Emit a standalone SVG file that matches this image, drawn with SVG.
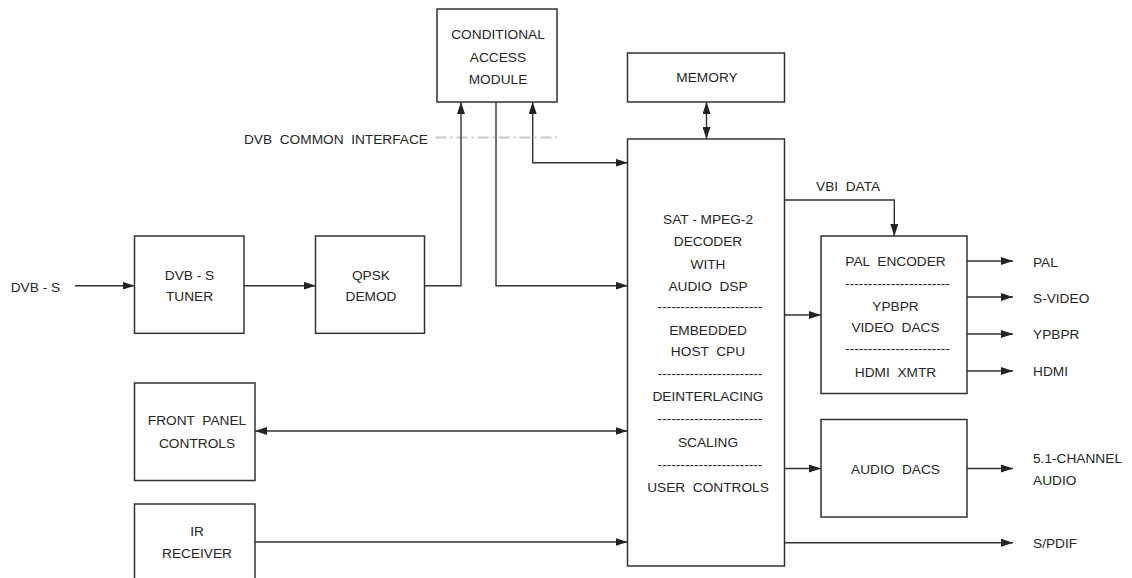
<svg xmlns="http://www.w3.org/2000/svg" width="1132" height="578" viewBox="0 0 1132 578" xml:space="preserve">
<style>
text{font-family:"Liberation Sans",Arial,sans-serif;font-size:13.7px;fill:#262626;white-space:pre}
.c{text-anchor:middle}
.box{fill:#fff;stroke:#333;stroke-width:1.5}
.ln{fill:none;stroke:#333;stroke-width:1.4}
.ci{fill:none;stroke:#c8c8c8;stroke-width:2;stroke-dasharray:11 4 2 4}
</style>
<defs>
<marker id="ah" markerWidth="12" markerHeight="8" refX="12" refY="4" orient="auto-start-reverse" markerUnits="userSpaceOnUse"><path d="M0,0 L12,4 L0,8 z" fill="#222"/></marker>
</defs>
<rect width="1132" height="578" fill="#fff"/>
<g id="connectors">
<path class="ci" d="M435.5,137.5 H557"/>
<path class="ln" d="M75,285.7 H134.5" marker-end="url(#ah)"/>
<path class="ln" d="M244,285.7 H315.5" marker-end="url(#ah)"/>
<path class="ln" d="M425,285.7 H461 V102" marker-end="url(#ah)"/>
<path class="ln" d="M496,102 V285.7 H627.5" marker-end="url(#ah)"/>
<path class="ln" d="M627.5,162.7 H532.7 V102" marker-start="url(#ah)" marker-end="url(#ah)"/>
<path class="ln" d="M706.5,102 V139" marker-start="url(#ah)" marker-end="url(#ah)"/>
<path class="ln" d="M784.5,200 H894.3 V236" marker-end="url(#ah)"/>
<path class="ln" d="M784.5,315 H821" marker-end="url(#ah)"/>
<path class="ln" d="M784.5,468.5 H821" marker-end="url(#ah)"/>
<path class="ln" d="M967,261 H1013" marker-end="url(#ah)"/>
<path class="ln" d="M967,297 H1013" marker-end="url(#ah)"/>
<path class="ln" d="M967,334 H1013" marker-end="url(#ah)"/>
<path class="ln" d="M967,371 H1013" marker-end="url(#ah)"/>
<path class="ln" d="M967,468.5 H1013" marker-end="url(#ah)"/>
<path class="ln" d="M784.5,542.7 H1013" marker-end="url(#ah)"/>
<path class="ln" d="M255,431 H627.5" marker-start="url(#ah)" marker-end="url(#ah)"/>
<path class="ln" d="M255,542 H627.5" marker-end="url(#ah)"/>
</g>
<g id="labels">
<text x="428" y="143.9" text-anchor="end">DVB  COMMON  INTERFACE</text>
<text x="10.7" y="291.6">DVB - S</text>
<text x="816" y="190.9">VBI  DATA</text>
<text x="1033" y="266.6">PAL</text>
<text x="1033" y="302.9">S-VIDEO</text>
<text x="1033" y="339.2">YPBPR</text>
<text x="1033" y="375.6">HDMI</text>
<text x="1033" y="462.6">5.1-CHANNEL</text>
<text x="1033" y="484.9">AUDIO</text>
<text x="1033" y="547.6">S/PDIF</text>
</g>
<g id="cam">
<rect class="box" x="437" y="9" width="120" height="93"/>
<text class="c" x="498" y="39.2">CONDITIONAL</text>
<text class="c" x="498" y="61.6">ACCESS</text>
<text class="c" x="498" y="84.2">MODULE</text>
</g>
<g id="memory">
<rect class="box" x="627.5" y="53" width="157" height="49"/>
<text class="c" x="707" y="82.2">MEMORY</text>
</g>
<g id="tuner">
<rect class="box" x="134.5" y="236" width="109.5" height="97.3"/>
<text class="c" x="189.5" y="280.2">DVB - S</text>
<text class="c" x="189.5" y="300.9">TUNER</text>
</g>
<g id="qpsk">
<rect class="box" x="315.5" y="236" width="109" height="97.3"/>
<text class="c" x="371" y="280.2">QPSK</text>
<text class="c" x="371" y="300.9">DEMOD</text>
</g>
<g id="decoder">
<rect class="box" x="627.5" y="139" width="157" height="427"/>
<text class="c" x="708" y="223.9">SAT - MPEG-2</text>
<text class="c" x="708" y="246.2">DECODER</text>
<text class="c" x="708" y="268.9">WITH</text>
<text class="c" x="708" y="290.9">AUDIO  DSP</text>
<text class="c" x="710" y="311.1">-----------------------</text>
<text class="c" x="708" y="334.9">EMBEDDED</text>
<text class="c" x="708" y="355.9">HOST  CPU</text>
<text class="c" x="710" y="377.8">-----------------------</text>
<text class="c" x="708" y="400.9">DEINTERLACING</text>
<text class="c" x="710" y="422.8">-----------------------</text>
<text class="c" x="708" y="447.2">SCALING</text>
<text class="c" x="710" y="468.5">-----------------------</text>
<text class="c" x="708" y="491.9">USER  CONTROLS</text>
</g>
<g id="pal">
<rect class="box" x="821" y="236" width="146" height="157.5"/>
<text class="c" x="895.5" y="265.9">PAL  ENCODER</text>
<text class="c" x="897.5" y="288.1">-----------------------</text>
<text class="c" x="895.5" y="310.9">YPBPR</text>
<text class="c" x="895.5" y="331.6">VIDEO  DACS</text>
<text class="c" x="897.5" y="352.8">-----------------------</text>
<text class="c" x="895.5" y="376.6">HDMI  XMTR</text>
</g>
<g id="audiodacs">
<rect class="box" x="821" y="419.5" width="146" height="97.5"/>
<text class="c" x="895.5" y="473.6">AUDIO  DACS</text>
</g>
<g id="frontpanel">
<rect class="box" x="134.5" y="383" width="120.5" height="97.5"/>
<text class="c" x="197" y="424.9">FRONT  PANEL</text>
<text class="c" x="197" y="448.2">CONTROLS</text>
</g>
<g id="ir">
<rect class="box" x="134.5" y="504" width="120.5" height="90"/>
<text class="c" x="197" y="536.4">IR</text>
<text class="c" x="197" y="558.2">RECEIVER</text>
</g>
</svg>
